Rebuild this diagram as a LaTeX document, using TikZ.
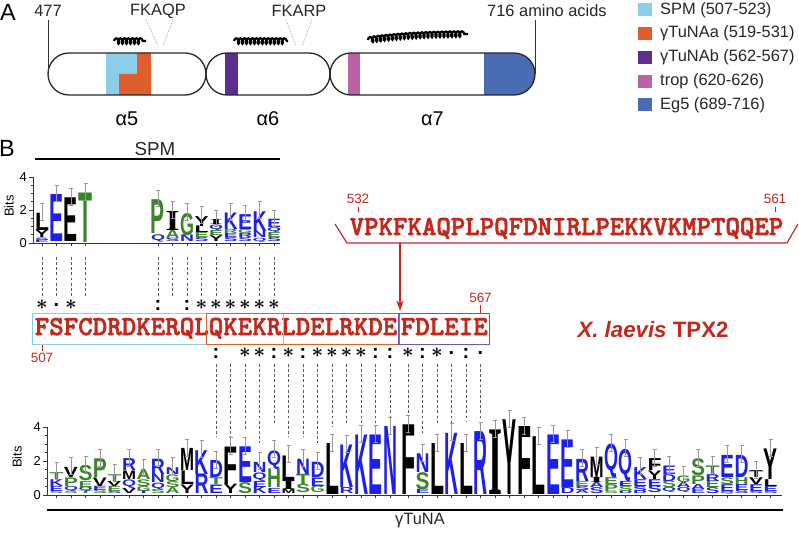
\documentclass[tikz,border=0pt]{standalone}
\usepackage{fontspec}
\setmainfont{Liberation Sans}
\newfontfamily\serifbf{Liberation Serif}
\newfontfamily\seqfont{lmmonolt10-bold.otf}[FakeBold=2.2]
\usepackage{bm}
\usetikzlibrary{calc,fit,arrows.meta,decorations.pathmorphing}

\definecolor{seqred}{RGB}{196,40,28}
\definecolor{spmblue}{RGB}{140,206,232}
\definecolor{tunaa}{RGB}{222,94,46}
\definecolor{tunab}{RGB}{92,46,142}
\definecolor{tunabox}{RGB}{108,88,180}
\definecolor{tropc}{RGB}{186,98,166}
\definecolor{eg5}{RGB}{74,108,180}
\definecolor{lgb}{RGB}{28,32,232}
\definecolor{lgg}{RGB}{58,132,42}
\definecolor{lgk}{RGB}{0,0,0}

\newcommand{\lgbase}{243}
\newcommand{\lgbit}{16.5}
\newcommand{\lgI}{{\serifbf\bfseries I}}
\newcommand{\consstar}{$\bm{\ast}$}
% one logo column: index, top (bits), letters letter/colour/from/to
\newcommand{\logocol}[3]{%
  \pgfmathsetmacro{\lx}{seqx(#1)}%
  \foreach \ch/\co/\lo/\hi in {#3}{%
    \pgfmathsetmacro{\lh}{(\hi-\lo)*\lgbit*0.03}%
    \node[logoletter, text=\co] at (\lx, {\lgbase-\lo*\lgbit}) {\resizebox*{0.42cm}{\lh cm}{\ch}};
  }%
  \draw[errbar] (\lx-2, {\lgbase-(#2+0.6)*\lgbit}) -- ++(4,0) ++(-2,0) -- (\lx, {\lgbase-(#2-0.4)*\lgbit}) ++(-2,0) -- ++(4,0);
  \draw[axisline] (\lx, \lgbase) -- ++(0,3);
}

\begin{document}
\begin{tikzpicture}[x=0.03cm, y=-0.03cm,
    declare function={seqx(\n)=(\n<25)*(42+14.5*\n)+(\n>24)*(408+14.5*(\n-25));},
    pill/.style={draw=black!85, line width=1.1pt, rounded corners=0.63cm},
    helix/.style={decorate, decoration={coil, aspect=0.55, segment length=3.4pt, amplitude=2.3pt}, line width=1.9pt},
    guide/.style={densely dotted, black!55, line width=0.5pt},
    lbl/.style={font=\fontsize{14}{16}\selectfont, text=black!85, inner sep=0},
    panel/.style={font=\fontsize{20}{22}\selectfont, inner sep=0},
    helixlbl/.style={font=\fontsize{17}{19}\selectfont, inner sep=0},
    keybox/.style={inner sep=0, minimum width=0.42cm, minimum height=0.39cm},
    seqchar/.style={anchor=base, inner sep=0, text height=16.5pt, text depth=6.3pt, text=seqred, font=\seqfont\fontsize{23.5}{24}\selectfont},
    seqbox/.style={inner xsep=1.5pt, inner ysep=1.3pt, line width=1pt},
    seqline/.style={seqred, line width=1pt},
    numtick/.style={seqred, line width=0.5pt},
    seqnum/.style={text=seqred, font=\fontsize{11.5}{13}\selectfont, inner sep=0},
    cons/.style={inner sep=0, font=\bfseries\fontsize{17}{17}\selectfont},
    dashlink/.style={dash pattern=on 2.4pt off 2pt, black!65, line width=0.5pt},
    logoletter/.style={anchor=south, inner sep=0, font=\bfseries},
    errbar/.style={black!40, line width=0.5pt},
    axisline/.style={black!80, line width=0.6pt},
    ticklbl/.style={font=\fontsize{11}{12}\selectfont, inner sep=0, anchor=east},
    spanline/.style={line width=1.6pt}
  ]
  \useasboundingbox (0,0) rectangle (799,535);

  % A: the alpha helices
  \node[panel] (pA) at (8,12) {A};
  \begin{scope}
    \clip[rounded corners=0.63cm] (48,53) rectangle (206,95);
    \fill[spmblue] (106,53) rectangle (137,95);
    \fill[tunaa] (137,53) rectangle (151,95) (119,74) rectangle (137,95);
  \end{scope}
  \begin{scope}
    \clip[rounded corners=0.63cm] (206,53) rectangle (330,95);
    \fill[tunab] (225,53) rectangle (238,95);
  \end{scope}
  \begin{scope}
    \clip[rounded corners=0.63cm] (330,53) rectangle (535,95);
    \fill[tropc] (348,53) rectangle (360,95);
    \fill[eg5] (484,53) rectangle (535,95);
  \end{scope}
  \draw[pill] (48,53) rectangle (206,95);
  \draw[pill] (206,53) rectangle (330,95);
  \draw[pill] (330,53) rectangle (535,95);
  \foreach \xa/\xb/\nm in {48/206/5, 206/330/6, 330/535/7}
    \node[helixlbl] (a\nm) at ({(\xa+\xb)/2},118.5) {α\nm};

  \draw[helix] (114,41) -- (146,41);
  \draw[helix] (234,41) -- (288,41);
  \draw[helix] (368,40) .. controls (400,35) and (440,34) .. (468,34);

  \node[lbl] (n477) at (48,11) {477};
  \node[lbl, anchor=west] (n716) at (487,11) {716 amino acids};
  \coordinate (p1w) at (48,74);
  \coordinate (p3e) at (535,74);
  \draw[axisline, line width=0.8pt, shorten <=3pt] (n477) -- (p1w);
  \draw[axisline, line width=0.8pt] (p3e |- 0,20) -- (p3e);

  \node[lbl] (fkaqp) at (158,11) {FKAQP};
  \node[lbl] (fkarp) at (299,11) {FKARP};
  \draw[guide] (146,20) -- (158,46) (173,20) -- (163,46);
  \draw[guide] (286,20) -- (296,46) (312,20) -- (302,46);

  \foreach \c/\t [count=\k from 0] in {spmblue/SPM (507-523), tunaa/γTuNAa (519-531), tunab/γTuNAb (562-567), tropc/trop (620-626), eg5/Eg5 (689-716)}{
    \node[keybox, fill=\c] (k\k) at (645,{10+23.7*\k}) {};
    \node[lbl, anchor=west] (kt\k) at (660,{10+23.7*\k}) {\t};
  }

  % B: logos and the alignment
  \node[panel] (pB) at (7,148) {B};
  \node[lbl, font=\fontsize{16}{18}\selectfont] (spm) at (155,149) {SPM};
  \draw[line width=1.2pt] (35,159) -- (280,159);

  \draw[axisline] (33,243) -- (33,177);
  \foreach \b in {0,0.5,...,4}
    \draw[axisline] (33,{243-\b*16.5}) -- ++(-2,0);
  \foreach \b in {0,2,4}{
    \draw[axisline] (33,{243-\b*16.5}) -- ++(-4,0);
    \node[ticklbl] (ty\b) at (27,{243-\b*16.5}) {\b};
  }
  \node[ticklbl, rotate=90, anchor=center] (bitst) at (9,206) {Bits};
  \draw[axisline] (33,243) -- (280,243);

  \logocol{0}{1.8}{E/lgb/0/0.15, S/lgb/0.15/0.3, Y/lgk/0.3/0.75, L/lgk/0.75/1.8}
  \logocol{1}{2.9}{E/lgb/0.05/2.9}
  \logocol{2}{2.7}{E/lgk/0.05/2.7}
  \logocol{3}{3.0}{T/lgg/0/3.0}
  \logocol{8}{2.6}{Q/lgb/0.05/0.5, P/lgg/0.55/2.6}
  \logocol{9}{1.9}{S/lgb/0.05/0.25, A/lgg/0.25/0.75, \lgI/lgk/0.75/1.9}
  \logocol{10}{1.8}{N/lgb/0.05/0.45, G/lgg/0.45/1.8}
  \logocol{11}{1.6}{S/lgb/0.05/0.3, E/lgg/0.3/0.6, L/lgk/0.6/1.0, Y/lgk/1.0/1.6}
  \logocol{12}{1.4}{Y/lgk/0.1/0.45, E/lgg/0.45/0.75, Q/lgb/0.75/1.1, \lgI/lgk/1.1/1.4}
  \logocol{13}{1.8}{S/lgb/0.05/0.3, E/lgb/0.3/0.55, R/lgg/0.55/0.8, K/lgb/0.8/1.8}
  \logocol{14}{1.7}{S/lgb/0.05/0.3, R/lgb/0.3/0.55, G/lgg/0.55/0.8, E/lgb/0.8/1.7}
  \logocol{15}{1.9}{Q/lgb/0.05/0.3, N/lgb/0.3/0.7, K/lgb/0.7/1.9}
  \logocol{16}{1.4}{S/lgb/0.05/0.3, E/lgg/0.3/0.6, Q/lgb/0.6/0.9, E/lgb/0.9/1.4}

  \foreach \i in {0,1,2,3,8,9,...,16}{
    \coordinate (t\i) at ({seqx(\i)},257);
    \draw[dashlink] (t\i) -- ++(0,39);
  }

  \foreach \a [count=\i from 0] in {F,S,F,C,D,R,D,K,E,R,Q,L,Q,K,E,K,R,L,D,E,L,R,K,D,E,F,D,L,E,I,E}
    \node[seqchar] (c\i) at ({seqx(\i)},335) {\a};
  \node[seqbox, draw=spmblue, fit=(c0)(c16)] (spmbox) {};
  \node[seqbox, draw=tunaa, fit=(c12)(c24)] (abox) {};
  \node[seqbox, draw=tunabox, fit=(c25)(c30)] (bbox) {};
  \draw[tunabox, line width=0.6pt] ($(abox.east)+(0,8)$) -- ($(bbox.west)+(0,8)$);

  \node[seqnum] (n507) at (42,358) {507};
  \draw[numtick, shorten >=1.5pt] (spmbox.south -| c0) -- (n507);
  \node[seqnum] (n567) at ({seqx(30)},298) {567};
  \draw[numtick, shorten >=1.5pt] (bbox.north -| c30) -- (n567);

  \foreach \i/\s in {0/\consstar, 1/., 2/\consstar, 8/:, 10/:, 11/\consstar, 12/\consstar, 13/\consstar, 14/\consstar, 15/\consstar, 16/\consstar}
    \node[cons] (u\i) at ({seqx(\i)},305) {\s};
  \foreach \i/\s in {12/:, 14/\consstar, 15/\consstar, 16/:, 17/\consstar, 18/:, 19/\consstar, 20/\consstar, 21/\consstar, 22/\consstar, 23/:, 24/:, 25/\consstar, 26/:, 27/\consstar, 28/., 29/:, 30/.}
    \node[cons] (l\i) at ({seqx(\i)},353) {\s};

  \node[seqchar] (ins) at (566.5,235) {VPKFKAQPLPQFDNIRLPEKKVKMPTQQEP};
  \draw[seqline] (335,224) -- (347,243) -- (787,243) -- (798,224);
  \node[seqnum] (n532) at (358,199) {532};
  \node[seqnum] (n561) at (775,199) {561};
  \draw[numtick] (n532.south) ++(0,3) -- ++(0,5);
  \draw[numtick] (n561.south) ++(0,3) -- ++(0,5);
  \coordinate (brk) at (400,243);
  \draw[seqline, -{Stealth[length=9pt,width=6pt]}, shorten >=2pt] (brk) -- (brk |- bbox.north);

  \node[text=seqred, font=\bfseries\fontsize{19}{21}\selectfont] (species) at (653,330) {\textit{X. laevis} TPX2};

  \foreach \i/\e in {12/437, 13/437, 14/430, 15/443, 16/423, 17/437, 18/437, 19/443, 20/427, 21/423, 22/423, 23/423, 24/416, 25/413, 26/433, 27/423, 28/423, 29/422, 30/420}{
    \coordinate (d\i) at ({seqx(\i)},\e);
    \draw[dashlink] ($(c\i.base)+(0,29)$) -- (d\i);
  }

  \renewcommand{\lgbase}{495}
  \renewcommand{\lgbit}{17}
  \draw[axisline] (47,495) -- (47,427);
  \foreach \b in {0,0.5,...,4}
    \draw[axisline] (47,{495-\b*17}) -- ++(-2,0);
  \foreach \b in {0,2,4}{
    \draw[axisline] (47,{495-\b*17}) -- ++(-4,0);
    \node[ticklbl] (by\b) at (41,{495-\b*17}) {\b};
  }
  \node[ticklbl, rotate=90, anchor=center] (bitsb) at (17,457) {Bits};
  \draw[axisline] (47,495) -- (782,495);

  \logocol{1}{1.3}{S/lgg/0.05/0.2, E/lgb/0.2/0.5, K/lgb/0.5/0.9, T/lgg/0.9/1.3}
  \logocol{2}{1.6}{S/lgg/0.05/0.2, Q/lgb/0.2/0.5, P/lgg/0.5/1.0, V/lgk/1.0/1.6}
  \logocol{3}{1.7}{T/lgg/0.05/0.2, Q/lgb/0.2/0.45, E/lgg/0.45/0.8, S/lgg/0.8/1.7}
  \logocol{4}{2.1}{S/lgg/0.05/0.25, E/lgb/0.25/0.5, V/lgk/0.5/1.0, P/lgg/1.0/2.1}
  \logocol{5}{1.2}{S/lgb/0.05/0.2, E/lgg/0.2/0.5, V/lgk/0.5/0.8, T/lgg/0.8/1.2}
  \logocol{6}{2.1}{V/lgk/0.1/0.4, Q/lgb/0.4/0.9, M/lgk/0.9/1.4, R/lgb/1.4/2.1}
  \logocol{7}{1.5}{T/lgb/0.05/0.2, G/lgg/0.2/0.5, S/lgg/0.5/0.9, A/lgg/0.9/1.5}
  \logocol{8}{2.1}{S/lgg/0.05/0.3, Q/lgb/0.3/0.7, N/lgb/0.7/1.2, R/lgb/1.2/2.1}
  \logocol{9}{1.6}{A/lgg/0.1/0.45, S/lgg/0.45/0.8, G/lgg/0.8/1.2, N/lgb/1.2/1.6}
  \logocol{10}{2.7}{Y/lgk/0.1/0.6, L/lgk/0.6/1.4, M/lgk/1.4/2.7}
  \logocol{11}{2.6}{R/lgb/0.05/1.2, K/lgb/1.2/2.6}
  \logocol{12}{2.0}{E/lgb/0.1/0.6, T/lgg/0.6/1.0, D/lgb/1.0/2.0}
  \logocol{13}{2.8}{Y/lgk/0.05/0.6, F/lgk/0.6/2.8}
  \logocol{14}{2.8}{S/lgg/0.05/0.7, E/lgb/0.7/2.8}
  \logocol{15}{1.9}{K/lgb/0.05/0.45, E/lgb/0.45/0.8, Q/lgb/0.8/1.3, N/lgb/1.3/1.9}
  \logocol{16}{2.6}{E/lgb/0.1/0.4, H/lgg/0.4/1.5, Q/lgb/1.5/2.6}
  \logocol{17}{2.3}{M/lgk/0.05/0.3, \lgI/lgk/0.3/0.8, L/lgk/0.8/2.3}
  \logocol{18}{2.1}{S/lgg/0.1/0.6, T/lgg/0.6/1.2, N/lgb/1.2/2.1}
  \logocol{19}{1.9}{G/lgg/0.1/0.5, E/lgb/0.5/1.0, D/lgb/1.0/1.9}
  \logocol{20}{3.0}{L/lgk/0/3.0}
  \logocol{21}{2.9}{R/lgb/0.05/0.4, K/lgb/0.4/2.9}
  \logocol{22}{3.5}{K/lgb/0/3.5}
  \logocol{23}{3.5}{E/lgb/0/3.5}
  \logocol{24}{4.0}{N/lgb/0/4.0}
  \logocol{25}{4.1}{F/lgk/0/4.1}
  \logocol{26}{2.4}{E/lgb/0.05/0.3, S/lgg/0.3/1.3, N/lgb/1.3/2.4}
  \logocol{27}{3.0}{L/lgk/0/3.0}
  \logocol{28}{3.6}{K/lgb/0/3.6}
  \logocol{29}{3.0}{L/lgk/0/3.0}
  \logocol{30}{3.7}{R/lgb/0/3.7}
  \logocol{31}{3.8}{\lgI/lgk/0/3.8}
  \logocol{32}{4.4}{Y/lgk/0/4.4}
  \logocol{33}{4.0}{F/lgk/0/4.0}
  \logocol{34}{3.4}{L/lgk/0/3.4}
  \logocol{35}{3.5}{E/lgb/0/3.5}
  \logocol{36}{3.2}{D/lgb/0.05/0.4, E/lgb/0.4/3.2}
  \logocol{37}{2.1}{A/lgb/0.05/0.25, S/lgb/0.25/0.5, E/lgg/0.5/0.8, R/lgb/0.8/2.1}
  \logocol{38}{2.2}{S/lgb/0.05/0.4, A/lgb/0.4/0.7, \lgI/lgk/0.7/1.0, M/lgk/1.0/2.2}
  \logocol{39}{3.0}{S/lgg/0.05/0.2, P/lgg/0.2/0.6, E/lgg/0.6/1.0, Q/lgb/1.0/3.0}
  \logocol{40}{2.7}{D/lgb/0.05/0.2, S/lgg/0.2/0.5, E/lgb/0.5/0.8, Q/lgb/0.8/2.7}
  \logocol{41}{1.6}{D/lgb/0.05/0.2, S/lgb/0.2/0.5, E/lgb/0.5/0.9, K/lgb/0.9/1.6}
  \logocol{42}{2.1}{S/lgb/0.1/0.5, E/lgb/0.5/0.9, Y/lgk/0.9/1.4, F/lgk/1.4/2.1}
  \logocol{43}{1.7}{Q/lgb/0.1/0.4, S/lgg/0.4/0.8, D/lgb/0.8/1.2, E/lgb/1.2/1.7}
  \logocol{44}{1.1}{Q/lgb/0.1/0.4, A/lgb/0.4/0.7, G/lgg/0.7/1.1}
  \logocol{45}{2.1}{E/lgb/0.05/0.3, A/lgb/0.3/0.6, P/lgg/0.6/1.1, S/lgg/1.1/2.1}
  \logocol{46}{1.7}{S/lgb/0.05/0.4, E/lgg/0.4/0.8, R/lgb/0.8/1.2, T/lgg/1.2/1.7}
  \logocol{47}{2.3}{Q/lgb/0.05/0.2, E/lgb/0.2/0.6, S/lgg/0.6/1.0, E/lgb/1.0/2.3}
  \logocol{48}{2.3}{S/lgb/0.05/0.25, E/lgb/0.25/0.6, H/lgg/0.6/1.0, D/lgb/1.0/2.3}
  \logocol{49}{1.4}{S/lgb/0.05/0.2, E/lgb/0.2/0.6, V/lgk/0.6/1.0, T/lgk/1.0/1.4}
  \logocol{50}{2.7}{S/lgb/0.05/0.2, E/lgb/0.2/0.5, L/lgk/0.5/0.9, Y/lgk/0.9/2.7}

  \draw[spanline] (47,510) -- (783,510);
  \node[lbl] (tuna) at (420,521) {γTuNA};
\end{tikzpicture}
\end{document}
